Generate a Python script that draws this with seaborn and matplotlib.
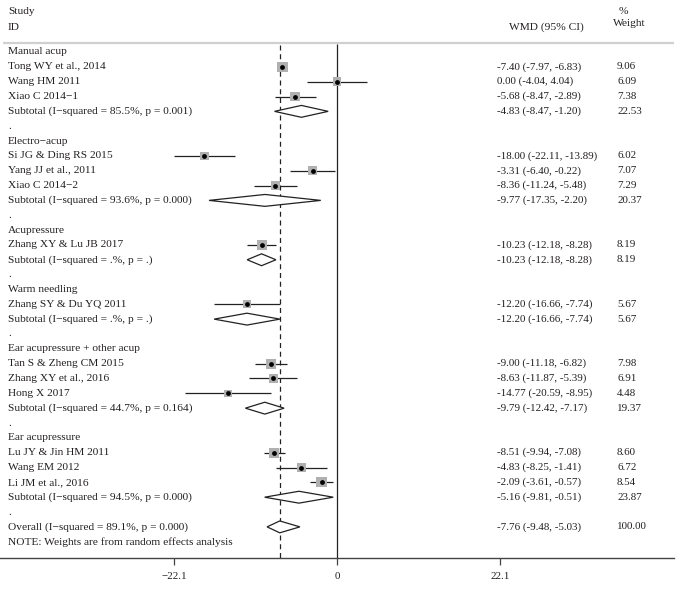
import numpy as np
import pandas as pd
import matplotlib
matplotlib.use("Agg")
import matplotlib.pyplot as plt
from matplotlib.transforms import blended_transform_factory
import seaborn as sns

# ---------------- data ----------------
group_names = ["Manual acup", "Electro\u2212acup", "Acupressure", "Warm needling",
               "Ear acupressure + other acup", "Ear acupressure"]
group_sizes = [3, 3, 1, 1, 3, 3]

study_labels = ["Tong WY et al., 2014", "Wang HM 2011", "Xiao C 2014\u22121",
                "Si JG & Ding RS 2015", "Yang JJ et al., 2011", "Xiao C 2014\u22122",
                "Zhang XY & Lu JB 2017",
                "Zhang SY & Du YQ 2011",
                "Tan S & Zheng CM 2015", "Zhang XY et al., 2016", "Hong X 2017",
                "Lu JY & Jin HM 2011", "Wang EM 2012", "Li JM et al., 2016"]
study_est = [-7.40, 0.00, -5.68, -18.00, -3.31, -8.36, -10.23, -12.20,
             -9.00, -8.63, -14.77, -8.51, -4.83, -2.09]
study_lci = [-7.97, -4.04, -8.47, -22.11, -6.40, -11.24, -12.18, -16.66,
             -11.18, -11.87, -20.59, -9.94, -8.25, -3.61]
study_uci = [-6.83, 4.04, -2.89, -13.89, -0.22, -5.48, -8.28, -7.74,
             -6.82, -5.39, -8.95, -7.08, -1.41, -0.57]
study_wt = [9.06, 6.09, 7.38, 6.02, 7.07, 7.29, 8.19, 5.67,
            7.98, 6.91, 4.48, 8.60, 6.72, 8.54]

sub_labels = ["Subtotal (I\u2212squared = 85.5%, p = 0.001)",
              "Subtotal (I\u2212squared = 93.6%, p = 0.000)",
              "Subtotal (I\u2212squared = .%, p = .)",
              "Subtotal (I\u2212squared = .%, p = .)",
              "Subtotal (I\u2212squared = 44.7%, p = 0.164)",
              "Subtotal (I\u2212squared = 94.5%, p = 0.000)"]
sub_est = [-4.83, -9.77, -10.23, -12.20, -9.79, -5.16]
sub_lci = [-8.47, -17.35, -12.18, -16.66, -12.42, -9.81]
sub_uci = [-1.20, -2.20, -8.28, -7.74, -7.17, -0.51]
sub_wt = [22.53, 20.37, 8.19, 5.67, 19.37, 23.87]

overall_label = "Overall (I\u2212squared = 89.1%, p = 0.000)"
overall_est, overall_lci, overall_uci, overall_wt = -7.76, -9.48, -5.03, 100.00
note_text = "NOTE: Weights are from random effects analysis"

tick_values = [-22.1, 0, 22.1]
tick_labels = ["\u221222.1", "0", "22.1"]

# ---------------- build row table ----------------
rows = []  # (row, kind, label, est, lci, uci, wt)
r = 0
k = 0
for g, name in enumerate(group_names):
    rows.append((r, "head", name, None, None, None, None)); r += 1
    for _ in range(group_sizes[g]):
        rows.append((r, "study", study_labels[k], study_est[k], study_lci[k],
                     study_uci[k], study_wt[k])); r += 1; k += 1
    rows.append((r, "sub", sub_labels[g], sub_est[g], sub_lci[g], sub_uci[g], sub_wt[g])); r += 1
    rows.append((r, "dot", ".", None, None, None, None)); r += 1
rows.append((r, "sub", overall_label, overall_est, overall_lci, overall_uci, overall_wt)); r += 1
rows.append((r, "note", note_text, None, None, None, None))
df = pd.DataFrame(rows, columns=["row", "kind", "label", "est", "lci", "uci", "wt"])

# ---------------- figure ----------------
sns.set_theme(style="white")
plt.rcParams['font.family'] = ['Liberation Serif', 'DejaVu Serif']
W, H = 682, 589
fig = plt.figure(figsize=(W / 100, H / 100), dpi=100)
ROW0, STEP = 52.0, 14.84
AX_BOTTOM_PX, AX_RIGHT_PX, ZERO_PX, SCALE = 558, 674, 337, 7.376
ax = fig.add_axes([0, (H - AX_BOTTOM_PX) / H, AX_RIGHT_PX / W, AX_BOTTOM_PX / H])
ax.set_xlim(-ZERO_PX / SCALE, (AX_RIGHT_PX - ZERO_PX) / SCALE)
ybot = (AX_BOTTOM_PX - ROW0) / STEP
ax.set_ylim(ybot, -ROW0 / STEP)

def prow(px):
    return (px - ROW0) / STEP

txtc = "#231f20"
fs = 8.2
fsn = 7.9
tr = blended_transform_factory(fig.transFigure, ax.transData)

# header
ax.text(8 / W, prow(12), "Study", transform=tr, fontsize=fs, color=txtc, va="center")
ax.text(8 / W, prow(27), "ID", transform=tr, fontsize=fs, color=txtc, va="center")
ax.text(509 / W, prow(27), "WMD (95% CI)", transform=tr, fontsize=fs, color=txtc, va="center")
ax.text(619 / W, prow(11), "%", transform=tr, fontsize=fs, color=txtc, va="center")
ax.text(613 / W, prow(23), "Weight", transform=tr, fontsize=fs, color=txtc, va="center")

# top rule
ax.plot([ax.get_xlim()[0] + 3 / SCALE, ax.get_xlim()[1]], [prow(43), prow(43)],
        color="#d0d0d0", lw=1.6, solid_capstyle="butt")

# reference lines
ax.vlines(0, prow(44), ybot, color="#222222", lw=0.9)
ax.vlines(overall_est, prow(45), ybot, color="#222222", lw=0.9, linestyles=(0, (4, 3)))

# left labels and right columns
for _, rr in df.iterrows():
    ax.text(8 / W, rr.row, rr.label, transform=tr, fontsize=fs, color=txtc, va="center")
    if rr.kind in ("study", "sub"):
        ax.text(497 / W, rr.row, f"{rr.est:.2f} ({rr.lci:.2f}, {rr.uci:.2f})",
                transform=tr, fontsize=fsn, color=txtc, va="center")
        ax.text(617 / W, rr.row, f"{rr.wt:.2f}", transform=tr, fontsize=fsn,
                color=txtc, va="center")

# study CIs
st = df[df.kind == "study"]
ax.hlines(st.row, st.lci, st.uci, color="#222222", lw=0.9)
sns.scatterplot(data=st, x="est", y="row", size="wt", sizes=(0, 64), size_norm=(0, 10),
                marker="s", color="#b0b0b0", linewidth=0, legend=False, ax=ax, zorder=3)
sns.scatterplot(data=st, x="est", y="row", s=12, color="black", linewidth=0,
                legend=False, ax=ax, zorder=4)

# diamonds
sb = df[df.kind == "sub"]
hh = 0.4
for _, rr in sb.iterrows():
    ax.fill([rr.lci, rr.est, rr.uci, rr.est], [rr.row, rr.row - hh, rr.row, rr.row + hh],
            facecolor="white", edgecolor="#222222", lw=0.9, zorder=2)

# axis
for s in ["top", "right", "left"]:
    ax.spines[s].set_visible(False)
ax.spines["bottom"].set_color("#444444")
ax.spines["bottom"].set_linewidth(1.0)
ax.set_xticks(tick_values)
ax.set_xticklabels(tick_labels)
ax.tick_params(axis="x", bottom=True, direction="out", length=5, width=0.9,
               color="#444444", labelsize=fsn, labelcolor=txtc, pad=5)
ax.set_yticks([])
ax.set_xlabel("")
ax.set_ylabel("")
ax.grid(False)

fig.savefig("out.png", dpi=100)
